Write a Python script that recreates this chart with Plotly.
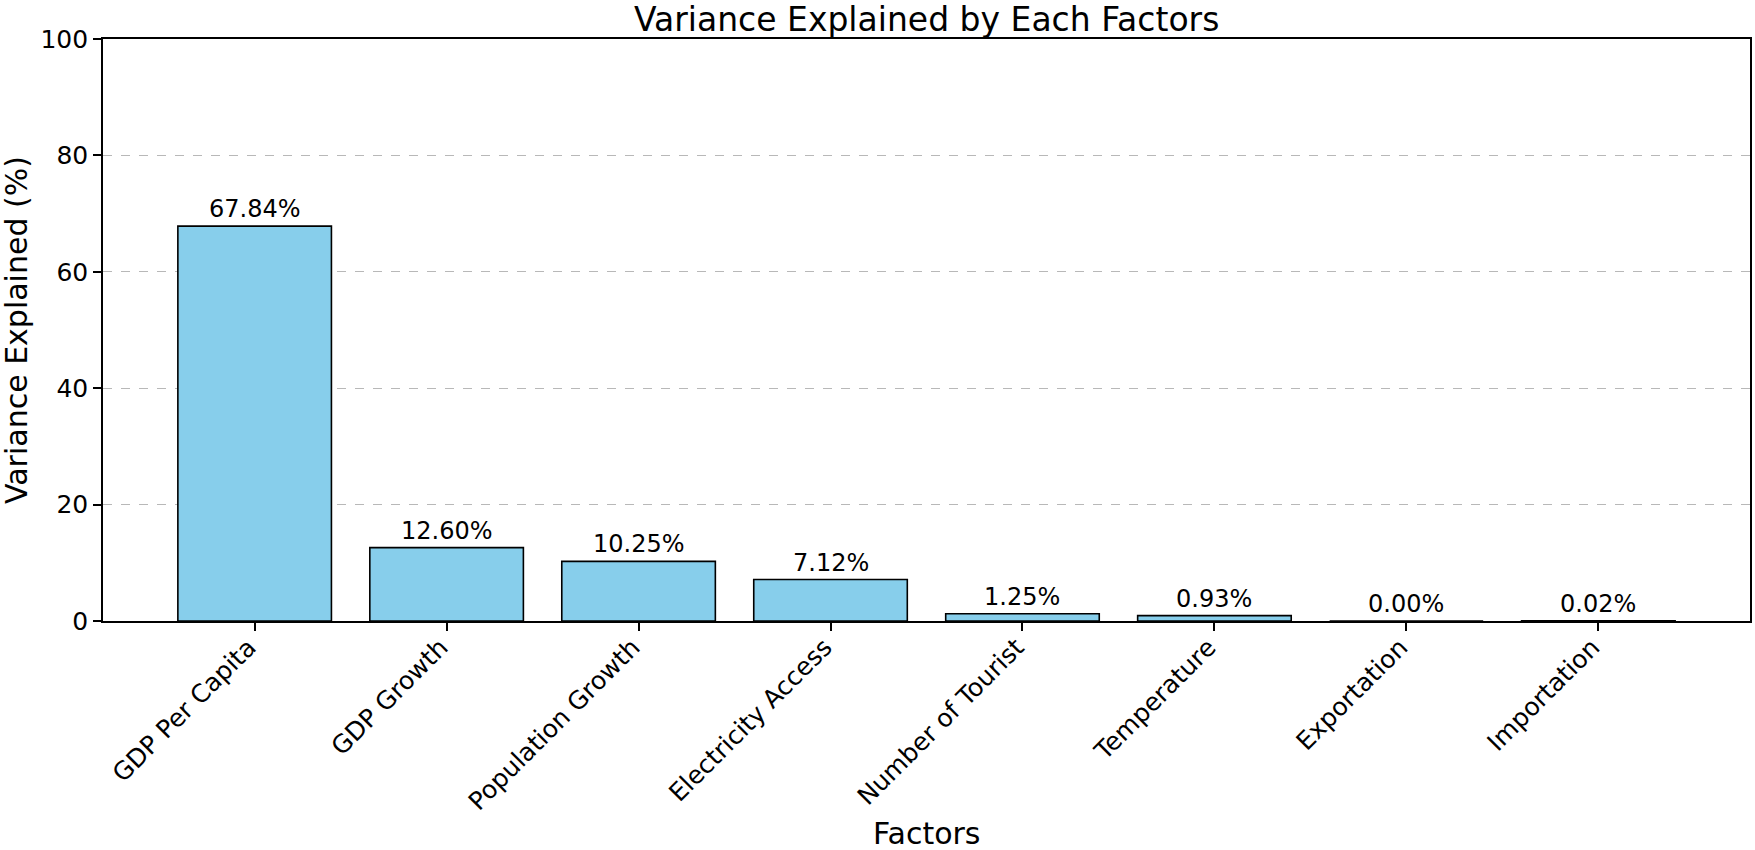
import plotly.graph_objects as go

categories = ["GDP Per Capita", "GDP Growth", "Population Growth", "Electricity Access",
              "Number of Tourist", "Temperature", "Exportation", "Importation"]
variance = [67.84, 12.60, 10.25, 7.12, 1.25, 0.93, 0.00, 0.02]
y_ticks = [0, 20, 40, 60, 80, 100]

FONT = "DejaVu Sans"
W, H = 1755, 850
ML, MR, MT, MB = 103, 5, 39, 229

fig = go.Figure()
fig.add_trace(go.Bar(
    x=list(range(len(categories))), y=variance,
    marker=dict(color="#87CEEB", line=dict(color="black", width=1.6)),
    width=0.8, hoverinfo="skip",
))

for i, v in enumerate(variance):
    fig.add_annotation(x=i, y=v, text=f"{v:.2f}%", showarrow=False,
                       yanchor="bottom", yshift=1,
                       font=dict(family=FONT, size=24, color="black"))

# Title and axis titles
fig.add_annotation(x=0.5, y=1, xref="paper", yref="paper", text="Variance Explained by Each Factors",
                   showarrow=False, xanchor="center", yanchor="bottom", yshift=-2,
                   font=dict(family=FONT, size=33, color="black"))
fig.add_annotation(x=0.5, y=0, xref="paper", yref="paper", text="Factors",
                   showarrow=False, xanchor="center", yanchor="middle", yshift=-(833 - (H - MB)),
                   font=dict(family=FONT, size=30, color="black"))
fig.add_annotation(x=0, y=0.5, xref="paper", yref="paper", text="Variance Explained (%)",
                   showarrow=False, textangle=-90, xanchor="center", yanchor="middle",
                   xshift=-(ML - 16),
                   font=dict(family=FONT, size=30, color="black"))

fig.update_layout(
    width=W, height=H,
    margin=dict(l=ML, r=MR, t=MT, b=MB),
    paper_bgcolor="white", plot_bgcolor="white",
    showlegend=False,
    font=dict(family=FONT, color="black"),
)
fig.update_xaxes(
    range=[-0.79, 7.79],
    tickmode="array", tickvals=list(range(len(categories))), ticktext=categories,
    tickangle=-45, tickfont=dict(family=FONT, size=25, color="black"),
    ticklabelstandoff=-8, ticklabelshift=-6,
    ticks="outside", ticklen=8, tickwidth=1.6, tickcolor="black",
    showline=True, linecolor="black", linewidth=1.6, mirror=True,
    showgrid=False, zeroline=False, automargin=False,
)
fig.update_yaxes(
    range=[0, 100],
    tickmode="array", tickvals=y_ticks,
    tickfont=dict(family=FONT, size=25, color="black"),
    ticks="outside", ticklen=8, tickwidth=1.6, tickcolor="black",
    showline=True, linecolor="black", linewidth=1.6, mirror=True,
    showgrid=True, gridcolor="#b8b8b8", griddash="dash", gridwidth=1.2,
    zeroline=False, automargin=False,
)

fig.write_html("out.html", config={"displayModeBar": False},
               post_script="document.body.style.margin='0';document.body.style.overflow='hidden';")
